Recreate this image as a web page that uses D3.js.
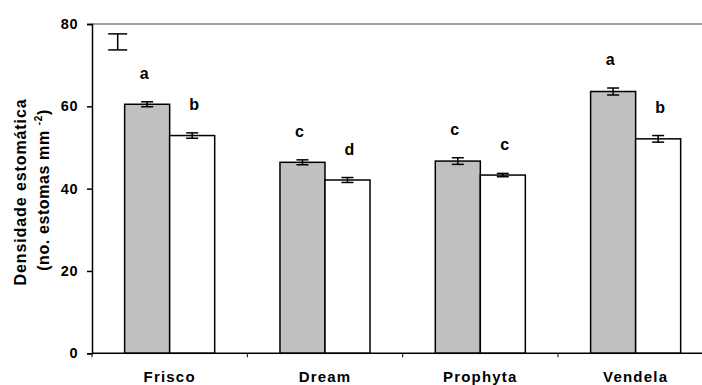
<!DOCTYPE html>
<html>
<head>
<meta charset="utf-8">
<script src="https://cdn.jsdelivr.net/npm/d3@7/dist/d3.min.js"></script>
<style>
  html, body { margin: 0; padding: 0; background: #fff; }
  text { font-family: "Liberation Sans", Arial, sans-serif; font-weight: bold; fill: #000; }
</style>
</head>
<body>
<svg id="chart" width="702" height="385"></svg>
<script>
// ---- data ----
const categories = ["Frisco", "Dream", "Prophyta", "Vendela"];
const seriesNames = ["s1", "s2"];
const valuesS1 = [60.5, 46.4, 46.7, 63.6];
const valuesS2 = [52.9, 42.1, 43.3, 52.1];
const errorsS1 = [0.6, 0.6, 0.8, 0.85];
const errorsS2 = [0.65, 0.6, 0.4, 0.8];
const lettersS1 = ["a", "c", "c", "a"];
const lettersS2 = ["b", "d", "c", "b"];
const yTicks = [0, 20, 40, 60, 80];
const lsdTop = 77.6, lsdBottom = 73.7;

(function () {
const svg = d3.select("#chart");
const pLeft = 92, pRight = 713.3, pTop = 24, pBottom = 353.3;

const x = d3.scaleBand().domain(categories).range([pLeft, pRight]).padding(0);
const xs = d3.scaleBand().domain(seriesNames).range([0, x.bandwidth()]).paddingInner(0).paddingOuter(0.725);
const y = d3.scaleLinear().domain([0, 80]).range([pBottom, pTop]);

const fills = { s1: "#c0c0c0", s2: "#ffffff" };
const data = [];
categories.forEach((c, i) => {
  data.push({ cat: c, s: "s1", v: valuesS1[i], e: errorsS1[i], l: lettersS1[i] });
  data.push({ cat: c, s: "s2", v: valuesS2[i], e: errorsS2[i], l: lettersS2[i] });
});

// top frame line (gray)
svg.append("line").attr("x1", pLeft).attr("x2", 702).attr("y1", y(80)).attr("y2", y(80))
  .attr("stroke", "#808080").attr("stroke-width", 1.5);

// bars
svg.selectAll("rect.bar").data(data).enter().append("rect")
  .attr("class", "bar")
  .attr("x", d => x(d.cat) + xs(d.s))
  .attr("y", d => y(d.v))
  .attr("width", xs.bandwidth())
  .attr("height", d => y(0) - y(d.v))
  .attr("fill", d => fills[d.s])
  .attr("stroke", "#000").attr("stroke-width", 1.5);

// error bars
const cap = 6;
const cx = d => x(d.cat) + xs(d.s) + xs.bandwidth() / 2;
const eb = svg.selectAll("g.eb").data(data).enter().append("g").attr("class", "eb")
  .attr("stroke", "#000").attr("stroke-width", 1.5);
eb.append("line")
  .attr("x1", cx).attr("x2", cx)
  .attr("y1", d => y(d.v + d.e)).attr("y2", d => y(d.v - d.e));
eb.append("line")
  .attr("x1", d => cx(d) - cap).attr("x2", d => cx(d) + cap)
  .attr("y1", d => y(d.v + d.e)).attr("y2", d => y(d.v + d.e));
eb.append("line")
  .attr("x1", d => cx(d) - cap).attr("x2", d => cx(d) + cap)
  .attr("y1", d => y(d.v - d.e)).attr("y2", d => y(d.v - d.e));

// letters
svg.selectAll("text.letter").data(data).enter().append("text")
  .attr("class", "letter")
  .attr("x", d => cx(d) + (d.s === "s1" ? -3 : 2))
  .attr("y", d => y(d.v + d.e) - 23)
  .attr("text-anchor", "middle")
  .style("font-size", "16px")
  .text(d => d.l);

// LSD marker
const lx = 117.7, lw = 9.5;
const lsd = svg.append("g").attr("stroke", "#000").attr("stroke-width", 1.5);
lsd.append("line").attr("x1", lx).attr("x2", lx).attr("y1", y(lsdTop)).attr("y2", y(lsdBottom));
lsd.append("line").attr("x1", lx - lw).attr("x2", lx + lw).attr("y1", y(lsdTop)).attr("y2", y(lsdTop));
lsd.append("line").attr("x1", lx - lw).attr("x2", lx + lw).attr("y1", y(lsdBottom)).attr("y2", y(lsdBottom));

// y axis
const yAxis = d3.axisLeft(y).tickValues(yTicks).tickSize(5).tickPadding(9);
const gy = svg.append("g").attr("transform", `translate(${pLeft},0)`).call(yAxis);
gy.select(".domain").attr("stroke", "#000").attr("stroke-width", 1.5);
gy.selectAll(".tick line").attr("stroke", "#000").attr("stroke-width", 1.5);
gy.selectAll(".tick text").style("font-size", "14.5px").style("font-family", "'Liberation Sans', Arial, sans-serif").style("font-weight", "bold").style("letter-spacing", "0.5px");

// x axis line and boundary ticks
svg.append("line").attr("x1", pLeft).attr("x2", 702).attr("y1", y(0)).attr("y2", y(0))
  .attr("stroke", "#000").attr("stroke-width", 1.5);
svg.selectAll("line.xtick").data(categories).enter().append("line")
  .attr("class", "xtick")
  .attr("x1", d => x(d)).attr("x2", d => x(d))
  .attr("y1", y(0)).attr("y2", y(0) + 4)
  .attr("stroke", "#000").attr("stroke-width", 1);

// x labels
svg.selectAll("text.xl").data(categories).enter().append("text")
  .attr("class", "xl")
  .attr("x", d => x(d) + x.bandwidth() / 2)
  .attr("y", 382)
  .attr("text-anchor", "middle")
  .style("font-size", "15px")
  .style("letter-spacing", "1.2px")
  .text(d => d);

// y axis title
svg.append("text")
  .attr("transform", `translate(25.5,192) rotate(-90)`)
  .attr("text-anchor", "middle")
  .style("font-size", "16px")
  .style("letter-spacing", "0.9px")
  .text("Densidade estomática");
const yt2 = svg.append("text")
  .attr("transform", `translate(48.5,190) rotate(-90)`)
  .attr("text-anchor", "middle")
  .style("font-size", "16px")
  .style("letter-spacing", "0.6px");
yt2.append("tspan").text("(no. estomas mm  ");
yt2.append("tspan").attr("dy", -7).style("font-size", "10px").text("-2");
yt2.append("tspan").attr("dy", 7).text(")");
})();
</script>
</body>
</html>
